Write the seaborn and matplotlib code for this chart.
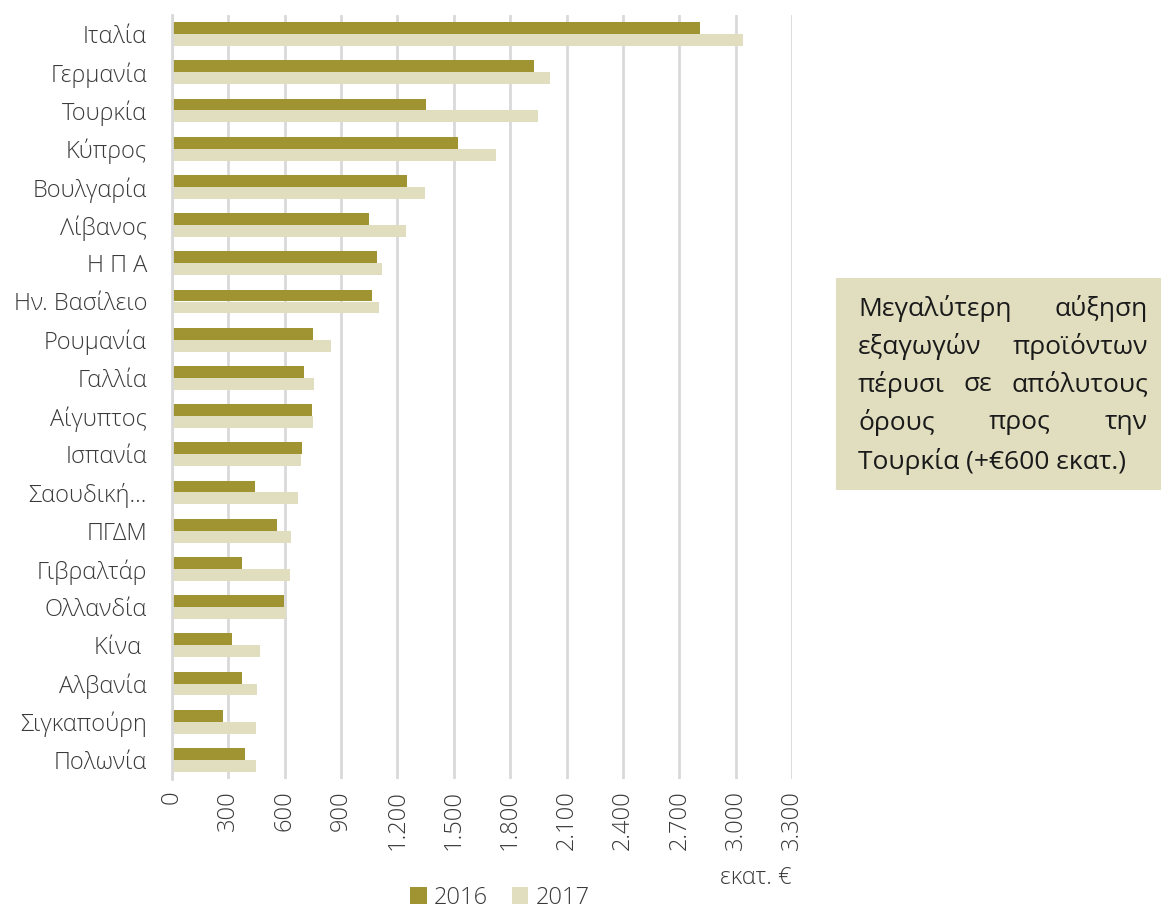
import pandas as pd
import seaborn as sns
import matplotlib.pyplot as plt
from matplotlib.ticker import FuncFormatter, MultipleLocator
from matplotlib.patches import Patch

countries = ['Ιταλία', 'Γερμανία', 'Τουρκία', 'Κύπρος', 'Βουλγαρία', 'Λίβανος',
             'Η Π Α', 'Ην. Βασίλειο', 'Ρουμανία', 'Γαλλία', 'Αίγυπτος', 'Ισπανία',
             'Σαουδική…', 'ΠΓΔΜ', 'Γιβραλτάρ', 'Ολλανδία', 'Κίνα ', 'Αλβανία',
             'Σιγκαπούρη', 'Πολωνία']
val_2016 = [2811, 1928, 1350, 1524, 1250, 1048, 1093, 1063, 748, 702,
            744, 692, 442, 561, 375, 598, 321, 371, 272, 389]
val_2017 = [3039, 2013, 1950, 1724, 1348, 1248, 1120, 1104, 846, 757,
            749, 685, 673, 636, 627, 609, 467, 454, 449, 446]
years = ['2016', '2017']
colors = ['#A09432', '#E1DEC0']

note_lines = [['Μεγαλύτερη', 'αύξηση'],
              ['εξαγωγών', 'προϊόντων'],
              ['πέρυσι', 'σε', 'απόλυτους'],
              ['όρους', 'προς', 'την'],
              ['Τουρκία (+€600 εκατ.)']]

sns.set_style('white')
plt.rcParams['font.family'] = ['Open Sans', 'DejaVu Sans']
plt.rcParams['font.weight'] = 'light'
txt = '#3a3a3a'

df = pd.DataFrame({
    'country': countries * 2,
    'value': val_2016 + val_2017,
    'year': [years[0]] * len(countries) + [years[1]] * len(countries),
})

W, H = 1161, 909
fig = plt.figure(figsize=(W / 100, H / 100), dpi=100)
ax = fig.add_axes([172 / W, 1 - 779 / H, 620 / W, 764 / H])

sns.barplot(data=df, y='country', x='value', hue='year', orient='h',
            palette=colors, width=0.62, ax=ax, legend=False,
            edgecolor='none', saturation=1)

ax.set_xlim(0, 3300)
ax.xaxis.set_major_locator(MultipleLocator(300))
ax.xaxis.set_major_formatter(FuncFormatter(lambda v, p: f'{int(v):,}'.replace(',', '.')))
ax.grid(axis='x', color='#D9D9D9', linewidth=2)
ax.set_axisbelow(True)
for s in ['top', 'right', 'bottom']:
    ax.spines[s].set_visible(False)
ax.spines['left'].set_color('#D9D9D9')
ax.spines['left'].set_linewidth(2)
ax.set_xlabel('')
ax.set_ylabel('')
ax.tick_params(axis='y', length=0, pad=18, labelsize=17, labelcolor=txt)
ax.tick_params(axis='x', length=0, pad=8, labelsize=17, labelcolor=txt, labelrotation=90)

fig.text(792 / W, 1 - 878 / H, 'εκατ. €', ha='right', va='center', fontsize=17, color=txt)

handles = [Patch(facecolor=c, edgecolor='none') for c in colors]
fig.legend(handles, years, loc='center', bbox_to_anchor=(500 / W, 1 - 898 / H),
           ncol=2, frameon=False, fontsize=17, handlelength=0.7, handleheight=0.7,
           handletextpad=0.3, columnspacing=1.0, labelcolor=txt)

# annotation box with justified text
fig.patches.append(plt.Rectangle((836 / W, 1 - 490 / H), 325 / W, 212 / H,
                                 transform=fig.transFigure, facecolor='#E1DEC0',
                                 edgecolor='none'))
x0, x1 = 858, 1148
fig.canvas.draw()
r = fig.canvas.get_renderer()
for i, words in enumerate(note_lines):
    y = 1 - (308 + i * 38.3) / H
    items = [fig.text(0, y, w, fontsize=19, color='#1a1a1a', va='center',
                      fontweight='normal') for w in words]
    widths = [t.get_window_extent(r).width for t in items]
    gap = (x1 - x0 - sum(widths)) / (len(words) - 1) if len(words) > 1 else 0
    pos = x0
    for t, w in zip(items, widths):
        t.set_x(pos / W)
        pos += w + gap

fig.savefig('out.png', dpi=100)
